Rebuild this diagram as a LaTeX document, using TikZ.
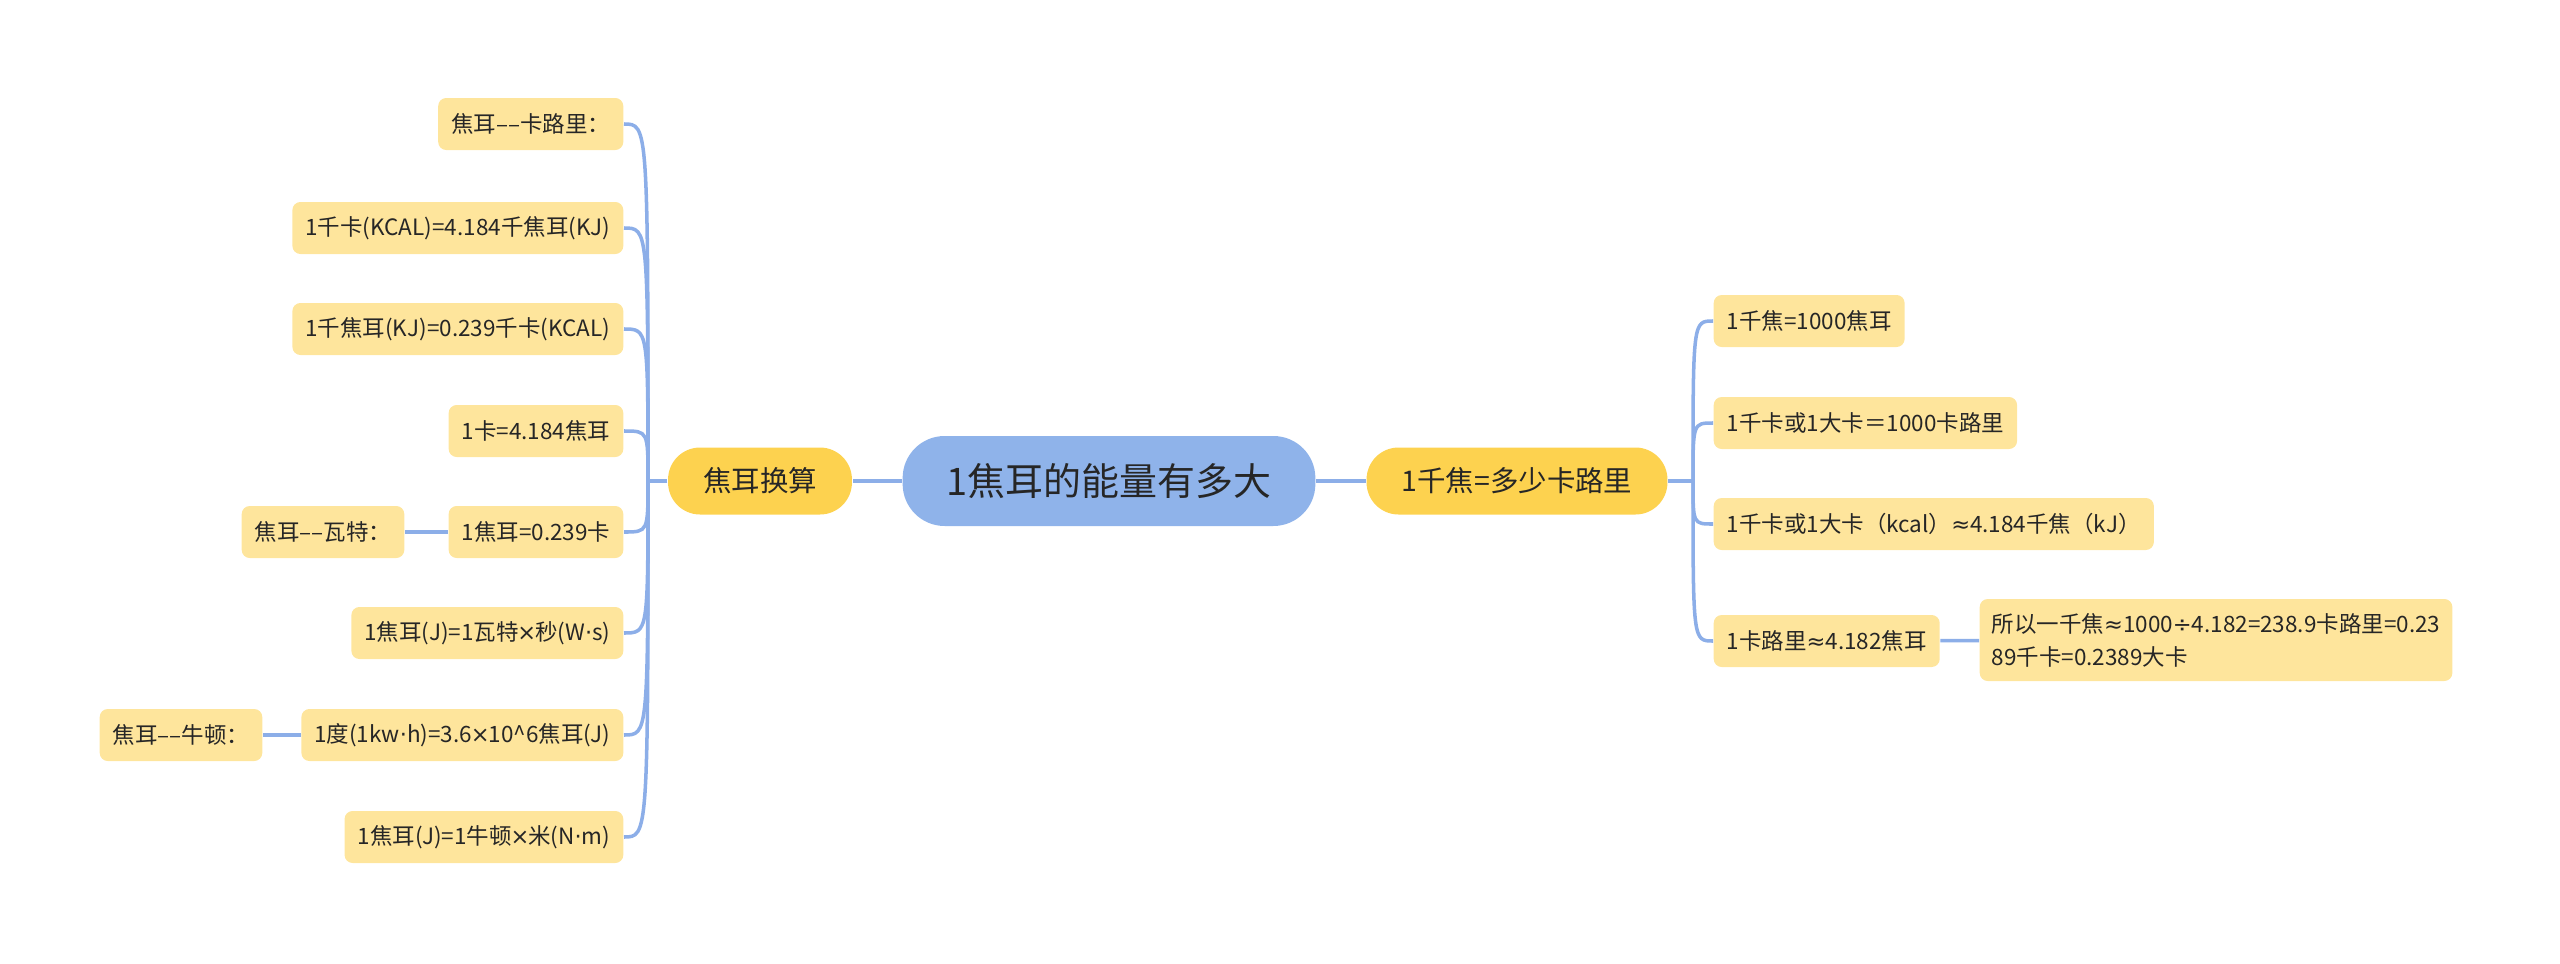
\documentclass[tikz,border=0pt]{standalone}
\usepackage{fontspec}
\newfontfamily\cjk{Noto Sans CJK SC}
\newfontfamily\sym{DejaVu Sans}
\newcommand{\tms}{{\sym\kern-0.05em×\kern-0.05em}}
\newcommand{\mdot}{{\sym·}}
\newcommand{\apx}{{\sym≈}}
\newcommand{\dvd}{{\sym÷}}
\usepackage{xcolor}
\definecolor{mapblue}{HTML}{8FB3EA}
\definecolor{mapgold}{HTML}{FDD24F}
\definecolor{mapcream}{HTML}{FEE59C}
\definecolor{mapline}{HTML}{8CAEE8}
\definecolor{mapink}{HTML}{262626}
\usetikzlibrary{positioning}

\begin{document}
\begin{tikzpicture}[
  root/.style={rectangle, rounded corners=0.42cm, fill=mapblue, minimum height=0.9cm, inner xsep=0.44cm, font=\cjk\fontsize{10.8}{13}\selectfont, text=mapink},
  topic/.style={rectangle, rounded corners=0.32cm, fill=mapgold, minimum height=0.67cm, inner xsep=0.35cm, font=\cjk\fontsize{8.1}{10}\selectfont, text=mapink},
  leaf/.style={rectangle, rounded corners=0.08cm, fill=mapcream, minimum height=0.52cm, inner xsep=0.13cm, font=\cjk\fontsize{6.4}{9.4}\selectfont, text=mapink},
  ln/.style={mapline, line width=1pt},
]
\useasboundingbox (0,0) rectangle (25.6,-9.64);
% ---------------- centre and the two main topics
\node[root] (root) at (11.09,-4.81) {1焦耳的能量有多大};
\node[topic] (conv) at (7.60,-4.81) {焦耳换算};
\node[topic] (kilo) at (15.17,-4.81) {1千焦=多少卡路里};
\draw[ln] (root) -- (conv);
\draw[ln] (root) -- (kilo);
% ---------------- left side: conversions
\coordinate (hubL) at (6.48,-4.81);
\node[leaf, anchor=east] (l1) at (6.24,-1.24) {焦耳––卡路里：};
\node[leaf, anchor=east] (l2) at (6.24,-2.28) {1千卡(KCAL)=4.184千焦耳(KJ)};
\node[leaf, anchor=east] (l3) at (6.24,-3.29) {1千焦耳(KJ)=0.239千卡(KCAL)};
\node[leaf, anchor=east] (l4) at (6.24,-4.31) {1卡=4.184焦耳};
\node[leaf, anchor=east] (l5) at (6.24,-5.32) {1焦耳=0.239卡};
\node[leaf, anchor=east] (l6) at (6.24,-6.33) {1焦耳(J)=1瓦特\tms 秒(W\mdot s)};
\node[leaf, anchor=east] (l7) at (6.24,-7.35) {1度(1kw\mdot h)=3.6\tms 10\textasciicircum6焦耳(J)};
\node[leaf, anchor=east] (l8) at (6.24,-8.37) {1焦耳(J)=1牛顿\tms 米(N\mdot m)};
\node[leaf, anchor=east] (watt) at (4.05,-5.32) {焦耳––瓦特：};
\node[leaf, anchor=east] (newton) at (2.63,-7.35) {焦耳––牛顿：};
\draw[ln] (conv.west) -- (hubL);
\foreach \k in {1,...,8} {
  \draw[ln] (hubL) .. controls (hubL |- l\k.east) .. (l\k.east);
}
\draw[ln] (watt) -- (l5);
\draw[ln] (newton) -- (l7);
% ---------------- right side: kilojoule and calories
\coordinate (hubR) at (16.93,-4.81);
\node[leaf, anchor=west] (r1) at (17.13,-3.21) {1千焦=1000焦耳};
\node[leaf, anchor=west] (r2) at (17.13,-4.23) {1千卡或1大卡＝1000卡路里};
\node[leaf, anchor=west] (r3) at (17.13,-5.24) {1千卡或1大卡（kcal）\apx 4.184千焦（kJ）};
\node[leaf, anchor=west] (r4) at (17.13,-6.41) {1卡路里\apx 4.182焦耳};
\node[leaf, anchor=west, align=left, minimum height=0.82cm, inner xsep=0.12cm] (sum) at (19.79,-6.40) {所以一千焦\apx 1000\dvd 4.182=238.9卡路里=0.23\\89千卡=0.2389大卡};
\draw[ln] (kilo.east) -- (hubR);
\foreach \k in {1,...,4} {
  \draw[ln] (hubR) .. controls (hubR |- r\k.west) .. (r\k.west);
}
\draw[ln] (r4) -- (sum);
\end{tikzpicture}
\end{document}
